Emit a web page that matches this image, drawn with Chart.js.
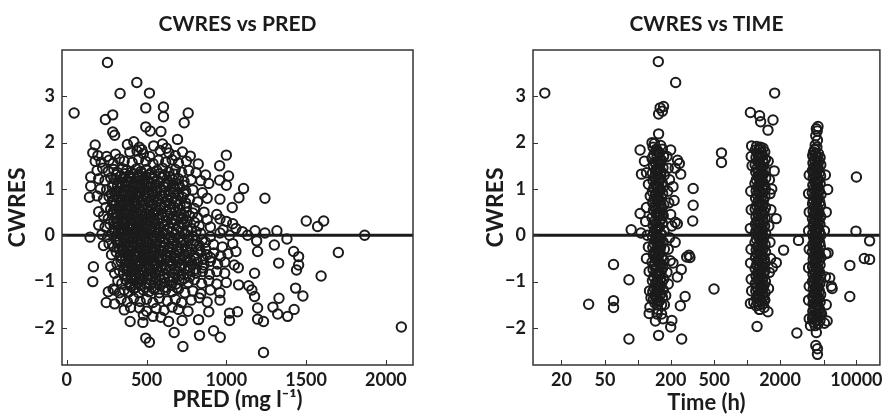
<!DOCTYPE html>
<html>
<head>
<meta charset="utf-8">
<script src="https://cdn.jsdelivr.net/npm/chart.js@4"></script>
<style>
  body { margin: 0; background: #fff; }
  .wrap { display: flex; width: 887px; height: 416px; }
  canvas { display: block; }
</style>
</head>
<body>
<div class="wrap">
  <canvas id="pred-chart" width="443" height="416"></canvas>
  <canvas id="time-chart" width="444" height="416"></canvas>
</div>
<script>
// CWRES vs PRED, [PRED mg/l, CWRES]
const predPoints = [
  [46,2.64],[255,3.73],[334,3.06],[439,3.3],[518,3.07],[495,2.75],[606,2.77],[606,2.56],[761,2.64],[736,2.43],
  [242,2.5],[288,2.6],[288,2.23],[300,2.16],[495,2.34],[523,2.25],[590,2.24],
  [178,1.95],[380,1.96],[420,2.02],[455,1.9],[545,1.93],[600,1.97],[625,1.88],[694,2.07],[470,1.85],
  [163,1.78],[195,1.72],[250,1.7],[305,1.75],[395,1.8],[440,1.82],[480,1.76],[520,1.7],[585,1.83],[640,1.78],[680,1.72],[725,1.8],[774,1.71],[1000,1.73],
  [178,1.6],[215,1.58],[265,1.62],[290,1.55],[330,1.65],[360,1.6],[410,1.57],[450,1.64],[495,1.6],[540,1.55],[575,1.62],[620,1.58],[660,1.63],[700,1.56],[750,1.6],[824,1.54],[958,1.5],
  [190,1.4],[225,1.45],[260,1.38],[295,1.42],[320,1.35],[350,1.44],[375,1.4],[405,1.36],[435,1.43],[465,1.38],[500,1.42],[530,1.35],[565,1.4],[600,1.45],[640,1.37],[680,1.42],[720,1.36],[765,1.4],[810,1.35],[870,1.3],
  [310,1.31],[340,1.28],[365,1.33],[390,1.27],[415,1.32],[445,1.29],[470,1.34],[495,1.27],[520,1.31],[550,1.28],[580,1.33],[610,1.3],[645,1.27],[675,1.32],
  [150,1.26],[200,1.22],[240,1.18],[275,1.24],[305,1.2],[330,1.15],[355,1.25],[380,1.18],[400,1.22],[425,1.16],[450,1.24],[480,1.2],[510,1.14],[540,1.22],[570,1.18],[600,1.25],[630,1.15],[665,1.2],[700,1.22],[735,1.16],[780,1.2],[840,1.18],[890,1.12],[958,1.19],[1014,1.28],
  [290,1.1],[318,1.07],[345,1.12],[368,1.08],[390,1.13],[412,1.06],[435,1.11],[458,1.08],[482,1.12],[505,1.07],[528,1.11],[552,1.08],[578,1.13],[605,1.06],[635,1.1],[668,1.07],[700,1.11],[730,1.08],
  [150,1.06],[210,1.0],[250,0.98],[285,1.04],[310,0.95],[335,1.02],[355,0.96],[375,1.05],[395,0.98],[415,1.02],[440,0.95],[460,1.04],[485,0.98],[510,1.03],[535,0.96],[560,1.02],[590,0.97],[615,1.04],[645,0.96],[675,1.0],[710,1.03],[745,0.95],[790,0.98],[850,0.92],[1000,1.08],[1108,1.01],
  [280,0.9],[305,0.87],[328,0.92],[350,0.88],[372,0.93],[393,0.86],[415,0.91],[438,0.88],[462,0.92],[487,0.87],[512,0.91],[536,0.88],[562,0.93],[588,0.86],[612,0.91],[640,0.88],[668,0.92],[700,0.87],[735,0.9],
  [142,0.82],[190,0.85],[230,0.78],[265,0.84],[290,0.76],[315,0.82],[340,0.75],[360,0.85],[380,0.78],[400,0.83],[420,0.75],[445,0.82],[470,0.77],[495,0.84],[520,0.76],[545,0.82],[570,0.78],[600,0.84],[630,0.76],[660,0.8],[690,0.74],[725,0.82],[770,0.78],[820,0.72],[880,0.8],[960,0.78],[1079,0.81],[1242,0.8],
  [285,0.7],[308,0.67],[332,0.72],[353,0.68],[375,0.73],[396,0.66],[418,0.71],[440,0.68],[465,0.72],[490,0.67],[514,0.71],[538,0.68],[563,0.73],[590,0.66],[618,0.71],[648,0.68],[678,0.72],[710,0.67],[745,0.7],
  [200,0.51],[245,0.6],[275,0.56],[300,0.64],[325,0.58],[345,0.62],[365,0.55],[385,0.64],[405,0.58],[430,0.62],[455,0.55],[480,0.63],[505,0.57],[530,0.62],[555,0.55],[585,0.6],[615,0.64],[645,0.56],[675,0.6],[710,0.55],[750,0.62],[800,0.58],[860,0.5],[1037,0.6],[940,0.45],
  [290,0.5],[312,0.47],[335,0.52],[356,0.48],[377,0.53],[398,0.46],[420,0.51],[443,0.48],[467,0.52],[492,0.47],[517,0.51],[542,0.48],[567,0.53],[593,0.46],[622,0.51],[652,0.48],[682,0.52],[715,0.47],[750,0.5],[790,0.48],
  [230,0.42],[260,0.36],[290,0.44],[315,0.38],[340,0.45],[360,0.36],[380,0.42],[400,0.35],[420,0.44],[445,0.38],[470,0.43],[495,0.36],[520,0.42],[545,0.37],[570,0.44],[600,0.38],[630,0.42],[660,0.35],[695,0.4],[730,0.36],[770,0.42],[820,0.38],[880,0.34],[960,0.35],[1000,0.3],[1040,0.25],
  [295,0.3],[318,0.27],[340,0.32],[362,0.28],[384,0.33],[405,0.26],[427,0.31],[450,0.28],[474,0.32],[498,0.27],[522,0.31],[547,0.28],[572,0.33],[598,0.26],[626,0.31],[656,0.28],[686,0.32],[718,0.27],[755,0.3],[800,0.28],
  [200,0.22],[240,0.18],[270,0.24],[300,0.16],[325,0.22],[345,0.15],[365,0.24],[390,0.18],[410,0.22],[435,0.14],[455,0.24],[480,0.18],[505,0.22],[530,0.15],[555,0.23],[580,0.17],[610,0.22],[640,0.16],[670,0.24],[700,0.18],[735,0.22],[780,0.15],[830,0.2],[900,0.18],[980,0.12],[1060,0.15],[1100,0.08],[1501,0.31],[1610,0.31],[1572,0.19],
  [300,0.1],[322,0.07],[345,0.12],[366,0.08],[388,0.13],[410,0.06],[432,0.11],[455,0.08],[478,0.12],[502,0.07],[526,0.11],[550,0.08],[575,0.13],[602,0.06],[630,0.11],[660,0.08],[690,0.12],[722,0.07],[760,0.1],[810,0.08],
  [146,-0.04],[220,0.02],[255,-0.03],[285,0.04],[310,-0.02],[335,0.03],[355,-0.05],[375,0.02],[395,-0.03],[420,0.04],[440,-0.02],[465,0.03],[490,-0.04],[515,0.02],[540,-0.03],[565,0.04],[590,-0.02],[620,0.03],[650,-0.04],[680,0.02],[710,-0.03],[745,0.03],[790,-0.02],[840,0.04],[900,-0.03],[960,0.05],[1020,0.0],[1133,0.0],[1180,0.1],[1242,0.05],[1317,0.1],[1380,-0.08],[1867,0.0],[1190,-0.12],
  [310,-0.1],[332,-0.13],[355,-0.08],[377,-0.12],[398,-0.07],[420,-0.14],[442,-0.09],[465,-0.12],[488,-0.08],[512,-0.13],[536,-0.09],[560,-0.12],[585,-0.07],[612,-0.14],[640,-0.09],[668,-0.12],[698,-0.08],[730,-0.13],[765,-0.1],[805,-0.12],[850,-0.09],
  [230,-0.22],[265,-0.18],[295,-0.25],[320,-0.16],[345,-0.24],[370,-0.18],[390,-0.22],[415,-0.15],[440,-0.25],[460,-0.18],[485,-0.22],[510,-0.16],[535,-0.24],[560,-0.18],[585,-0.22],[610,-0.15],[640,-0.24],[665,-0.18],[690,-0.22],[720,-0.16],[755,-0.24],[790,-0.18],[830,-0.22],[870,-0.15],[920,-0.2],[975,-0.25],[1040,-0.18],[1301,-0.21],
  [330,-0.3],[352,-0.33],[375,-0.28],[397,-0.32],[418,-0.27],[440,-0.34],[462,-0.29],[485,-0.32],[508,-0.28],[532,-0.33],[556,-0.29],[580,-0.32],[605,-0.27],[632,-0.34],[660,-0.29],[688,-0.32],[718,-0.28],[750,-0.33],[785,-0.3],[825,-0.32],[870,-0.29],
  [280,-0.42],[310,-0.36],[335,-0.44],[360,-0.38],[385,-0.43],[405,-0.35],[430,-0.42],[455,-0.37],[475,-0.44],[500,-0.36],[525,-0.42],[550,-0.38],[575,-0.45],[600,-0.36],[625,-0.42],[650,-0.38],[680,-0.44],[705,-0.36],[735,-0.42],[765,-0.38],[800,-0.44],[840,-0.36],[880,-0.42],[920,-0.38],[965,-0.45],[1010,-0.4],[1060,-0.35],[1196,-0.35],[1422,-0.35],[1453,-0.46],[1702,-0.37],
  [345,-0.5],[368,-0.53],[390,-0.48],[412,-0.52],[434,-0.47],[456,-0.54],[478,-0.49],[500,-0.52],[523,-0.48],[547,-0.53],[571,-0.49],[596,-0.52],[622,-0.47],[650,-0.54],[678,-0.49],[708,-0.52],[740,-0.48],[775,-0.53],[812,-0.5],[855,-0.52],[900,-0.48],
  [276,-0.68],[167,-0.68],[315,-0.62],[340,-0.56],[365,-0.64],[390,-0.58],[410,-0.63],[435,-0.55],[460,-0.62],[485,-0.57],[510,-0.64],[535,-0.56],[560,-0.62],[585,-0.58],[610,-0.65],[640,-0.56],[665,-0.62],[690,-0.58],[720,-0.64],[750,-0.55],[785,-0.62],[820,-0.58],[860,-0.64],[900,-0.56],[945,-0.62],[990,-0.58],[1050,-0.64],[1328,-0.6],[1453,-0.64],[1440,-0.75],
  [360,-0.7],[383,-0.73],[406,-0.68],[428,-0.72],[450,-0.67],[472,-0.74],[495,-0.69],[518,-0.72],[542,-0.68],[566,-0.73],[592,-0.69],[618,-0.72],[646,-0.67],[675,-0.74],[705,-0.69],[737,-0.72],[770,-0.68],[808,-0.73],[850,-0.7],
  [300,-0.82],[330,-0.76],[355,-0.84],[380,-0.78],[405,-0.85],[430,-0.76],[455,-0.82],[480,-0.78],[505,-0.84],[530,-0.76],[555,-0.82],[580,-0.78],[610,-0.85],[640,-0.76],[670,-0.82],[700,-0.78],[735,-0.84],[770,-0.76],[810,-0.82],[850,-0.78],[895,-0.84],[940,-0.78],[990,-0.82],[1177,-0.82],[1594,-0.88],[1075,-0.7],
  [380,-0.9],[405,-0.93],[430,-0.88],[455,-0.92],[480,-0.87],[505,-0.94],[530,-0.89],[556,-0.92],[582,-0.88],[610,-0.93],[640,-0.89],[670,-0.92],[702,-0.88],[735,-0.93],[770,-0.9],
  [163,-1.0],[300,-1.18],[320,-0.98],[345,-1.04],[370,-0.96],[395,-1.05],[420,-0.98],[445,-1.02],[470,-0.95],[495,-1.04],[525,-0.97],[555,-1.03],[585,-0.96],[615,-1.02],[650,-0.98],[685,-1.05],[720,-0.97],[760,-1.02],[800,-0.96],[845,-1.04],[890,-0.98],[940,-1.05],[1000,-1.02],[1077,-1.07],[1140,-1.09],
  [400,-1.1],[430,-1.13],[460,-1.08],[490,-1.12],[520,-1.07],[552,-1.14],[585,-1.09],[620,-1.12],[655,-1.08],[690,-1.13],
  [260,-1.22],[290,-1.16],[330,-1.24],[360,-1.18],[390,-1.22],[420,-1.15],[450,-1.24],[480,-1.18],[515,-1.22],[545,-1.16],[580,-1.24],[620,-1.18],[660,-1.22],[700,-1.16],[740,-1.24],[790,-1.2],[840,-1.26],[900,-1.18],[960,-1.24],[1160,-1.18],[1177,-1.32],[1434,-1.14],
  [247,-1.45],[300,-1.48],[340,-1.38],[380,-1.44],[420,-1.36],[460,-1.43],[500,-1.38],[540,-1.45],[580,-1.36],[630,-1.42],[680,-1.38],[720,-1.45],[780,-1.4],[830,-1.35],[880,-1.44],[960,-1.4],[1330,-1.36],[1480,-1.31],
  [360,-1.61],[400,-1.56],[455,-1.57],[500,-1.64],[560,-1.58],[610,-1.62],[660,-1.55],[700,-1.6],[760,-1.64],[890,-1.65],[1020,-1.68],[1070,-1.65],[1196,-1.57],[1292,-1.55],[1425,-1.6],[1322,-1.7],[1384,-1.75],
  [397,-1.86],[477,-1.88],[480,-1.72],[590,-1.77],[638,-1.86],[723,-1.84],[826,-1.82],[1020,-1.84],[1196,-1.81],[1233,-1.86],[2097,-1.98],[540,-1.75],
  [673,-2.1],[920,-2.06],[962,-2.2],[832,-2.16],[728,-2.4],[518,-2.31],[495,-2.22],[1233,-2.53]
];

// CWRES vs TIME, [time h, CWRES], grouped by sampling occasion
const timeEarly = [
  [142,1.98],[138,1.9],[146,1.82],[140,1.74],[135,1.66],[144,1.58],[139,1.5],[147,1.42],[136,1.34],[143,1.26],[138,1.18],[145,1.1],[140,1.02],[136,0.94],[146,0.86],[141,0.78],[137,0.7],[144,0.62],[139,0.54],[147,0.46],[135,0.38],[142,0.3],
  [138,0.22],[145,0.14],[140,0.06],[136,-0.02],[146,-0.1],[141,-0.18],[137,-0.26],[144,-0.34],[139,-0.42],[147,-0.5],[135,-0.58],[142,-0.66],[138,-0.74],[145,-0.82],[140,-0.9],[136,-0.98],[146,-1.06],[141,-1.14],[137,-1.22],[144,-1.3],[139,-1.38],[143,-1.46],
  [162,1.94],[168,1.86],[158,1.78],[172,1.7],[165,1.62],[160,1.54],[170,1.46],[163,1.38],[175,1.3],[159,1.22],[167,1.14],[172,1.06],[161,0.98],[169,0.9],[164,0.82],[158,0.74],[173,0.66],[166,0.58],[160,0.5],[171,0.42],[163,0.34],[168,0.26],
  [158,0.18],[174,0.1],[165,0.02],[160,-0.06],[170,-0.14],[163,-0.22],[175,-0.3],[159,-0.38],[167,-0.46],[172,-0.54],[161,-0.62],[169,-0.7],[164,-0.78],[158,-0.86],[173,-0.94],[166,-1.02],[160,-1.1],[171,-1.18],[163,-1.26],[168,-1.34],[158,-1.42],[165,-1.5],
  [148,1.86],[157,1.78],[150,1.7],[161,1.62],[146,1.54],[155,1.46],[149,1.38],[162,1.3],[147,1.22],[156,1.14],[151,1.06],[160,0.98],[145,0.9],[154,0.82],[150,0.74],[163,0.66],[148,0.58],[157,0.5],[152,0.42],[161,0.34],[146,0.26],[155,0.18],
  [149,0.1],[162,0.02],[147,-0.06],[156,-0.14],[151,-0.22],[160,-0.3],[145,-0.38],[154,-0.46],[150,-0.54],[163,-0.62],[148,-0.7],[157,-0.78],[152,-0.86],[161,-0.94],[146,-1.02],[155,-1.1],[149,-1.18],[162,-1.26],[147,-1.34],[156,-1.42],[151,-1.5],[153,-1.6],[150,-1.7],
  [152,1.6],[154,1.2],[151,0.8],[155,0.4],[150,0.0],[153,-0.4],[156,-0.8],[152,-1.2],[154,1.4],[151,1.0],[155,0.6],[150,0.2],[153,-0.2],[156,-0.6],[152,-1.0],[150,-1.35],[155,1.8],
  [105,1.84],[108,1.32],[200,1.84],[231,1.62],[247,1.32],[321,1.01],[321,0.65],[318,0.31],[87,0.12],[107,0.05],[105,0.47],[60,-0.63],[83,-0.96],
  [35.5,-1.49],[60,-1.41],[60,-1.56],[83,-2.24],[129,-1.55],[127,-1.69],[155,-2.16],[170,-1.8],[200,-1.98],[205,-1.84],[252,-2.24],[245,-1.52],[271,-1.32],
  [250,-0.74],[294,-0.43],[280,-0.47],[300,-0.48],[220,-0.15],[230,0.25],[127,-0.78],[154,3.75],[222,3.3],[160,2.75],[172,2.78],[155,2.62],[168,2.68],[155,2.19],
  [120,1.35],[125,1.1],[130,0.85],[120,0.6],[118,0.3],[122,0.0],[125,-0.25],[120,-0.5],[128,-1.2],[132,-1.35],[185,1.7],[190,1.45],[195,1.2],[188,0.95],
  [192,0.7],[200,0.45],[205,0.2],[195,-0.05],[190,-0.3],[198,-0.55],[185,-0.8],[190,-1.05],[180,-1.3],[175,-1.5],[210,1.05],[215,0.75],[220,0.28],[210,-0.6],
  [230,-0.9],[115,1.6],[135,2.0],[165,-1.7],[145,-1.85],[220,1.45],[240,1.55]
];
const timeMid = [
  [1220,1.92],[1190,1.84],[1250,1.76],[1205,1.68],[1240,1.6],[1185,1.52],[1230,1.44],[1200,1.36],[1255,1.28],[1215,1.2],[1180,1.12],[1245,1.04],[1210,0.96],[1235,0.88],[1195,0.8],[1260,0.72],[1220,0.64],[1185,0.56],[1250,0.48],[1205,0.4],[1240,0.32],[1190,0.24],
  [1230,0.16],[1200,0.08],[1255,0.0],[1215,-0.08],[1180,-0.16],[1245,-0.24],[1210,-0.32],[1235,-0.4],[1195,-0.48],[1260,-0.56],[1220,-0.64],[1185,-0.72],[1250,-0.8],[1205,-0.88],[1240,-0.96],[1190,-1.04],[1230,-1.12],[1200,-1.2],[1255,-1.28],[1215,-1.36],[1240,-1.44],[1210,-1.52],
  [1400,1.88],[1450,1.8],[1380,1.72],[1470,1.64],[1420,1.56],[1390,1.48],[1460,1.4],[1410,1.32],[1480,1.24],[1385,1.16],[1440,1.08],[1470,1.0],[1395,0.92],[1455,0.84],[1415,0.76],[1380,0.68],[1475,0.6],[1430,0.52],[1390,0.44],[1465,0.36],[1410,0.28],[1445,0.2],
  [1385,0.12],[1480,0.04],[1425,-0.04],[1395,-0.12],[1460,-0.2],[1415,-0.28],[1475,-0.36],[1385,-0.44],[1440,-0.52],[1465,-0.6],[1400,-0.68],[1455,-0.76],[1420,-0.84],[1380,-0.92],[1470,-1.0],[1430,-1.08],[1395,-1.16],[1460,-1.24],[1410,-1.32],[1445,-1.4],[1390,-1.48],[1430,-1.56],
  [1280,1.86],[1360,1.78],[1270,1.7],[1390,1.62],[1300,1.54],[1350,1.46],[1260,1.38],[1370,1.3],[1290,1.22],[1340,1.14],[1275,1.06],[1395,0.98],[1310,0.9],[1355,0.82],[1265,0.74],[1380,0.66],[1295,0.58],[1345,0.5],[1270,0.42],[1390,0.34],[1305,0.26],[1360,0.18],
  [1260,0.1],[1375,0.02],[1285,-0.06],[1340,-0.14],[1275,-0.22],[1395,-0.3],[1300,-0.38],[1355,-0.46],[1265,-0.54],[1380,-0.62],[1290,-0.7],[1345,-0.78],[1270,-0.86],[1390,-0.94],[1310,-1.02],[1360,-1.1],[1260,-1.18],[1375,-1.26],[1285,-1.34],[1340,-1.42],[1300,-1.5],
  [1310,1.7],[1330,1.3],[1300,0.9],[1325,0.5],[1315,0.1],[1335,-0.3],[1305,-0.7],[1320,-1.1],[1330,1.5],[1300,1.1],[1325,0.7],[1315,0.3],[1335,-0.1],[1305,-0.5],[1320,-0.9],[1310,-1.3],[1325,1.9],[1300,-1.6],
  [1072,2.65],[1300,2.58],[1330,2.45],[1552,2.27],[1725,2.49],[1787,3.07],[1100,1.93],[1300,1.86],[1770,1.39],[1845,0.36],[2157,-0.32],[1233,-1.97],[1072,-1.47],[1300,-1.6],[1550,-1.65],[1850,-0.59],
  [1080,0.95],[1090,0.55],[1070,0.15],[1085,-0.3],[1075,-0.6],[1090,-0.95],[1100,-1.2],[1600,1.2],[1620,0.9],[1650,0.55],[1580,0.2],[1620,-0.15],[1640,-0.5],[1600,-0.8],[1570,-1.15],
  [1110,1.5],[1560,1.6],[1150,-1.45],[1450,-1.4],[1680,1.0],[1700,-0.7],[1090,1.7]
];
const timeLate = [
  [4050,1.8],[3980,1.72],[4120,1.64],[4000,1.56],[4100,1.48],[3960,1.4],[4080,1.32],[4020,1.24],[4140,1.16],[3990,1.08],[4060,1.0],[3950,0.92],[4110,0.84],[4030,0.76],[3970,0.68],[4130,0.6],[4010,0.52],[4090,0.44],[3960,0.36],[4070,0.28],[4000,0.2],[4150,0.12],
  [3980,0.04],[4050,-0.04],[4120,-0.12],[3990,-0.2],[4100,-0.28],[3950,-0.36],[4080,-0.44],[4020,-0.52],[4140,-0.6],[3970,-0.68],[4060,-0.76],[4000,-0.84],[4110,-0.92],[3960,-1.0],[4090,-1.08],[4030,-1.16],[4130,-1.24],[3980,-1.32],[4070,-1.4],[4010,-1.48],[4120,-1.56],[3990,-1.64],[4050,-1.72],[3970,-1.8],[4100,-1.88],
  [4500,1.76],[4650,1.68],[4550,1.6],[4720,1.52],[4480,1.44],[4600,1.36],[4700,1.28],[4520,1.2],[4660,1.12],[4450,1.04],[4580,0.96],[4740,0.88],[4500,0.8],[4620,0.72],[4690,0.64],[4470,0.56],[4560,0.48],[4710,0.4],[4530,0.32],[4640,0.24],[4460,0.16],[4590,0.08],
  [4730,0.0],[4510,-0.08],[4620,-0.16],[4680,-0.24],[4480,-0.32],[4570,-0.4],[4720,-0.48],[4540,-0.56],[4650,-0.64],[4460,-0.72],[4600,-0.8],[4700,-0.88],[4520,-0.96],[4630,-1.04],[4490,-1.12],[4580,-1.2],[4710,-1.28],[4550,-1.36],[4660,-1.44],[4470,-1.52],[4610,-1.6],[4690,-1.68],[4530,-1.76],[4640,-1.84],
  [4200,1.76],[4380,1.68],[4180,1.6],[4420,1.52],[4250,1.44],[4340,1.36],[4170,1.28],[4400,1.2],[4230,1.12],[4360,1.04],[4190,0.96],[4430,0.88],[4260,0.8],[4330,0.72],[4170,0.64],[4410,0.56],[4220,0.48],[4370,0.4],[4180,0.32],[4440,0.24],[4250,0.16],[4350,0.08],
  [4160,0.0],[4400,-0.08],[4230,-0.16],[4360,-0.24],[4190,-0.32],[4430,-0.4],[4260,-0.48],[4330,-0.56],[4170,-0.64],[4410,-0.72],[4220,-0.8],[4370,-0.88],[4180,-0.96],[4440,-1.04],[4250,-1.12],[4350,-1.2],[4160,-1.28],[4400,-1.36],[4230,-1.44],[4360,-1.52],[4190,-1.6],[4430,-1.68],[4260,-1.76],[4330,-1.84],
  [4300,1.7],[4250,1.3],[4350,0.9],[4280,0.5],[4320,0.1],[4260,-0.3],[4340,-0.7],[4290,-1.1],[4310,-1.5],[4270,1.5],[4330,1.1],[4300,0.7],[4250,0.3],[4350,-0.1],[4280,-0.5],[4320,-0.9],[4260,-1.3],[4300,-1.7],[4200,-1.95],[4450,-1.92],
  [4300,2.3],[4450,2.35],[4380,2.25],[4250,2.15],[4400,2.05],[4200,1.95],[4350,1.9],[4150,1.85],
  [5460,0.99],[5500,-0.38],[5700,-0.92],[5900,-1.1],[6000,-1.15],[4300,-2.1],[4250,-2.38],[4400,-2.45],[4400,-2.57],
  [3700,1.3],[3650,0.9],[3700,0.5],[3650,0.1],[3700,-0.3],[3650,-0.7],[3700,-1.1],[3650,-1.4],[3700,-1.8],[5200,1.3],[5300,0.5],[5100,0.1],[5250,-0.4],[5200,-0.9],[5300,-1.5],[5100,-1.9],[5400,-1.85],[3800,-1.95],[4000,-1.75],[4800,-1.7]
];
const timeOther = [
  [14.1,3.07],[583,1.78],[583,1.57],[498,-1.16],[2954,-0.11],[2852,-2.11],
  [10000,1.26],[9900,0.09],[13200,-0.12],[11800,-0.5],[13200,-0.52],[8710,-0.65],[8700,-1.32]
];

const predTicks = [0, 500, 1000, 1500, 2000];
const timeTicks = [20, 50, 100, 200, 500, 1000, 2000, 5000, 10000];
const timeTickLabels = ["20", "50", "", "200", "500", "", "2000", "", "10000"];
const cwresTicks = [-2, -1, 0, 1, 2, 3];

const ink = "#1b1b1b";
const font = (size) => ({ family: "Lato, 'Open Sans', sans-serif", size: size, weight: "bold" });
const toXY = (pts) => pts.map(([x, y]) => ({ x: x, y: y }));

// box round the plot area, with short ticks pointing inwards
const framePlugin = {
  id: "frame",
  afterDatasetsDraw(chart) {
    const { ctx, chartArea: a, scales } = chart;
    ctx.save();
    ctx.strokeStyle = "#333";
    ctx.lineWidth = 1.5;
    ctx.strokeRect(a.left, a.top, a.right - a.left, a.bottom - a.top);
    ctx.lineWidth = 1;
    ctx.beginPath();
    scales.x.ticks.forEach((t) => {
      const px = Math.round(scales.x.getPixelForValue(t.value)) + 0.5;
      ctx.moveTo(px, a.bottom);
      ctx.lineTo(px, a.bottom - 5);
    });
    scales.y.ticks.forEach((t) => {
      const py = Math.round(scales.y.getPixelForValue(t.value)) + 0.5;
      ctx.moveTo(a.left, py);
      ctx.lineTo(a.left + 5, py);
    });
    ctx.stroke();
    ctx.restore();
  },
};

function pointSet(data) {
  return {
    data: toXY(data),
    pointRadius: 4.7,
    pointBorderWidth: 2,
    borderColor: ink,
    backgroundColor: "rgba(0,0,0,0)",
    order: 1,
  };
}

function zeroLine(xmin, xmax) {
  return {
    data: [{ x: xmin, y: 0 }, { x: xmax, y: 0 }],
    showLine: true,
    borderColor: ink,
    borderWidth: 3,
    pointRadius: 0,
    order: 0,
  };
}

function buildOptions(o) {
  return {
    responsive: false,
    animation: false,
    layout: { padding: { left: 0, right: o.padRight, top: 0, bottom: 0 } },
    plugins: {
      legend: { display: false },
      tooltip: { enabled: false },
      title: {
        display: true,
        fullSize: false,
        text: o.title,
        color: ink,
        font: font(21),
        padding: { top: 12, bottom: 12.8 },
      },
    },
    scales: {
      x: {
        type: o.xType,
        min: o.xMin,
        max: o.xMax,
        afterBuildTicks: (s) => { s.ticks = o.xTicks.map((v) => ({ value: v })); },
        afterFit: (s) => { s.height = 51; },
        grid: { display: false, drawTicks: false },
        border: { display: false },
        ticks: {
          color: ink,
          font: font(18),
          padding: 4,
          maxRotation: 0,
          autoSkip: false,
          callback: o.xLabel,
        },
        title: {
          display: true,
          text: o.xTitle,
          color: ink,
          font: font(22),
          padding: { top: 0, bottom: o.xTitlePad },
        },
      },
      y: {
        type: "linear",
        min: -2.8,
        max: 4.0,
        afterBuildTicks: (s) => { s.ticks = cwresTicks.map((v) => ({ value: v })); },
        afterFit: (s) => { s.width = o.yWidth; },
        grid: { display: false, drawTicks: false },
        border: { display: false },
        ticks: {
          color: ink,
          font: font(18),
          padding: 7,
          callback: (v) => String(v).replace("-", "\u2212"),
        },
        title: {
          display: true,
          text: "CWRES",
          color: ink,
          font: font(23),
          padding: { top: o.yTitlePad, bottom: 0 },
        },
      },
    },
  };
}

new Chart(document.getElementById("pred-chart"), {
  type: "scatter",
  data: {
    datasets: [zeroLine(-30, 2170), pointSet(predPoints)],
  },
  options: buildOptions({
    title: "CWRES vs PRED",
    padRight: 30,
    yWidth: 62,
    yTitlePad: 4,
    xType: "linear",
    xMin: -30,
    xMax: 2170,
    xTicks: predTicks,
    xLabel: (v) => String(v),
    xTitle: "PRED (mg l\u207B\u00B9)",
    xTitlePad: 3,
  }),
  plugins: [framePlugin],
});

new Chart(document.getElementById("time-chart"), {
  type: "scatter",
  data: {
    datasets: [
      zeroLine(11, 16400),
      pointSet(timeEarly),
      pointSet(timeMid),
      pointSet(timeLate),
      pointSet(timeOther),
    ],
  },
  options: buildOptions({
    title: "CWRES vs TIME",
    padRight: 5,
    yWidth: 90,
    yTitlePad: 39,
    xType: "logarithmic",
    xMin: 11,
    xMax: 16400,
    xTicks: timeTicks,
    xLabel: (v, i) => timeTickLabels[i],
    xTitle: "Time (h)",
    xTitlePad: 0,
  }),
  plugins: [framePlugin],
});
</script>
</body>
</html>
